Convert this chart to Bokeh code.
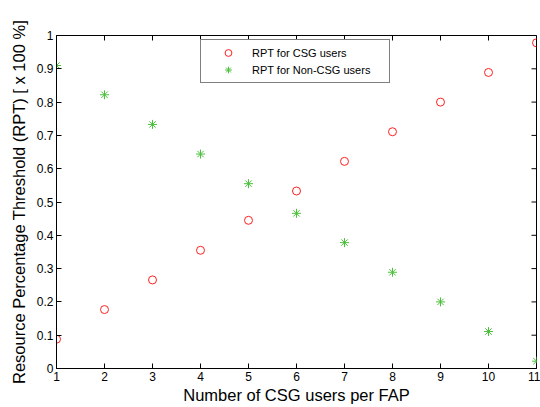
import math
from bokeh.plotting import figure
from bokeh.models import FixedTicker, CustomJSTickFormatter, Range1d, Legend, LegendItem, Title
from bokeh.embed import file_html
from bokeh.resources import INLINE

# Data
csg_users = [1, 2, 3, 4, 5, 6, 7, 8, 9, 10, 11]
rpt_csg = [0.088, 0.177, 0.266, 0.355, 0.445, 0.533, 0.622, 0.711, 0.800, 0.889, 0.978]
rpt_noncsg = [0.910, 0.822, 0.733, 0.644, 0.555, 0.466, 0.378, 0.289, 0.200, 0.111, 0.022]
x_ticks = [1, 2, 3, 4, 5, 6, 7, 8, 9, 10, 11]
y_ticks = [0, 0.1, 0.2, 0.3, 0.4, 0.5, 0.6, 0.7, 0.8, 0.9, 1]
x_label = "Number of CSG users per FAP"
y_label = "Resource Percentage Threshold (RPT) [ x 100 %]"

FONT = "Liberation Sans"
X_MIN, X_MAX, Y_MIN, Y_MAX = 1, 11, 0, 1

p = figure(width=540, height=407, frame_width=480, frame_height=333,
           output_backend="svg", toolbar_location=None,
           x_range=Range1d(X_MIN, X_MAX), y_range=Range1d(Y_MIN, Y_MAX),
           min_border_left=56, min_border_right=4, min_border_top=35, min_border_bottom=39,
           x_axis_label=x_label)
p.background_fill_color = "white"
p.border_fill_color = "white"
p.outline_line_color = "black"
p.outline_line_width = 1
p.xgrid.visible = False
p.ygrid.visible = False

fmt = CustomJSTickFormatter(code="return String(Math.round(tick*10)/10);")

for ax, ticks in ((p.xaxis[0], x_ticks), (p.yaxis[0], y_ticks)):
    ax.ticker = FixedTicker(ticks=ticks)
    ax.formatter = fmt
    ax.major_tick_in = 5
    ax.major_tick_out = 0
    ax.minor_tick_in = 0
    ax.minor_tick_out = 0
    ax.axis_line_color = "black"
    ax.major_tick_line_color = "black"
    ax.major_label_text_font = FONT
    ax.major_label_text_font_size = "12px"
    ax.major_label_text_color = "black"
    ax.axis_label_text_font = FONT
    ax.axis_label_text_font_size = "16.5px"
    ax.axis_label_text_font_style = "normal"
    ax.axis_label_text_color = "black"

p.xaxis[0].major_label_standoff = 3
p.xaxis[0].axis_label_standoff = 2
p.yaxis[0].major_label_standoff = 3

ytitle = Title(text=y_label, align="center", offset=13,
               text_font=FONT, text_font_size="16.5px", text_font_style="normal",
               text_color="black", standoff=11)
p.add_layout(ytitle, "left")

# inward ticks on top and right edges (half of each dash is clipped by the frame)
p.scatter(x_ticks, [Y_MAX] * len(x_ticks), marker="dash", angle=math.pi / 2,
          size=10, line_color="black", line_width=1)
p.scatter([X_MAX] * len(y_ticks), y_ticks, marker="dash",
          size=10, line_color="black", line_width=1)

r1 = p.scatter(csg_users, rpt_csg, marker="circle", size=8,
               fill_color=None, line_color="#ff2020", line_width=1)
r2 = p.scatter(csg_users, rpt_noncsg, marker="asterisk", size=9,
               line_color="#4cc03c", line_width=1)

legend = Legend(items=[LegendItem(label="RPT for CSG users", renderers=[r1]),
                       LegendItem(label="RPT for Non-CSG users", renderers=[r2])],
                location=(144, 285))
legend.label_text_font = FONT
legend.label_text_font_size = "11px"
legend.label_text_color = "black"
legend.border_line_color = "black"
legend.border_line_width = 1
legend.padding = 4
legend.spacing = 0
legend.margin = 0
legend.glyph_width = 46
legend.glyph_height = 17
legend.label_height = 17
legend.label_width = 133
legend.label_standoff = 1
legend.background_fill_color = "white"
legend.background_fill_alpha = 1
p.add_layout(legend, "center")

open("out.html", "w").write(file_html(p, INLINE))
